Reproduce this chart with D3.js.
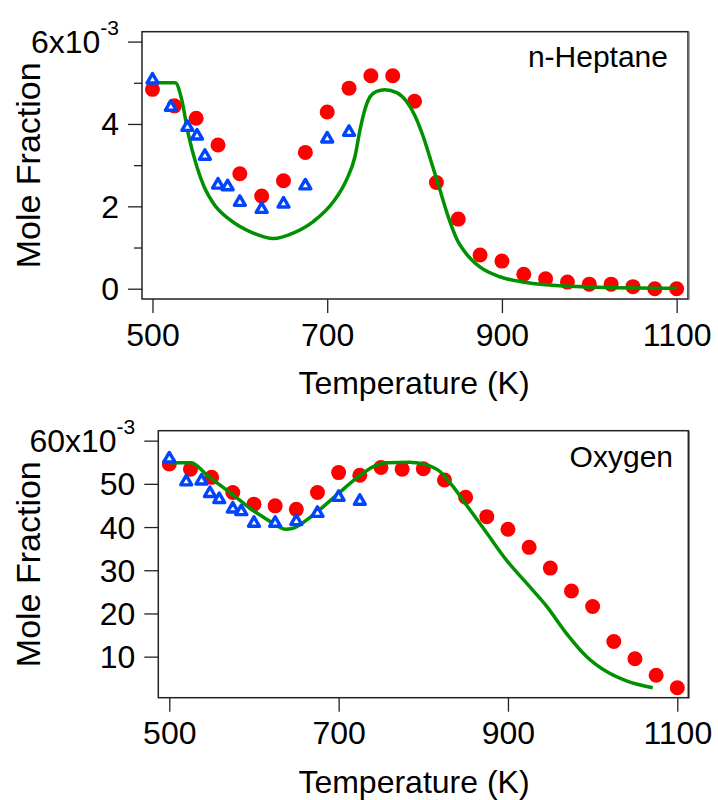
<!DOCTYPE html>
<html><head><meta charset="utf-8">
<script src="https://cdn.jsdelivr.net/npm/d3@7"></script>
<style>body{margin:0;background:#fff}svg{display:block;font-family:"Liberation Sans",Arial,sans-serif}</style>
</head><body>
<svg id="c" width="718" height="800"></svg>
<script>
// ---- Top panel: n-Heptane (units of 1e-3) ----
const hepExpT = [500,525,550,575,600,625,650,675,700,725,750,775,800,825,850,875,900,925,950,975,1000,1025,1050,1075,1100];
const hepExpV = [4.84,4.44,4.14,3.49,2.79,2.25,2.62,3.31,4.29,4.87,5.17,5.17,4.55,2.58,1.69,0.82,0.67,0.35,0.24,0.16,0.11,0.11,0.05,0.0,0.0];
const hepTriT = [500,521,540,551,560,575,586,600,625,650,675,700,725];
const hepTriV = [5.07,4.41,3.92,3.71,3.22,2.52,2.48,2.10,1.93,2.06,2.50,3.64,3.80];
const hepModT = [500,526,533.6,540.5,550.8,559,569.8,588.9,615.5,638.4,661,684,707,722,731.8,737.5,743,749,756.6,766,779.5,791,800,810,819.5,829,838.5,848,859.5,874.7,897.6,928,966,1023,1100];
const hepModV = [5.0,5.0,4.58,3.8,2.96,2.48,2.07,1.67,1.35,1.22,1.35,1.63,2.11,2.64,3.21,3.85,4.34,4.66,4.79,4.83,4.76,4.54,4.22,3.69,3.05,2.40,1.75,1.22,0.84,0.53,0.29,0.15,0.07,0.03,0.01];
const hepTicks = [0,2,4,6];
const hepMinor = [1,3,5];

// ---- Bottom panel: Oxygen (units of 1e-3) ----
const oxExpT = [500,525,550,575,600,625,650,675,700,725,750,775,800,825,850,875,900,925,950,975,1000,1025,1050,1075,1100];
const oxExpV = [54.6,53.4,51.5,48.0,45.3,44.9,44.1,48.0,52.6,52.0,53.8,53.4,53.5,50.9,46.9,42.4,39.5,35.3,30.5,25.2,21.6,13.5,9.5,5.7,2.8];
const oxTriT = [500,520,538,548,559,575,585,600,625,650,675,700,725];
const oxTriV = [55.8,50.5,50.7,47.8,46.4,44.2,43.6,40.9,40.9,41.3,43.2,46.9,46.0];
const oxModT = [500,526,544,575.6,597.6,613.4,629,637,646,662,677.6,697.6,723,741,757,784,804,820,835,851,875,898,922,946,969,993,1017,1040,1071];
const oxModV = [54.9,54.9,52.1,47.4,44.0,42.0,40.1,39.5,39.7,41.6,44.0,47.4,51.6,54.0,54.9,55.0,54.4,52.8,49.4,45.1,38.6,32.4,27.0,21.6,15.4,10.0,6.5,4.4,2.8];
const oxTicks = [10,20,30,40,50,60];

const xTicks = [500,700,900,1100];
const xTitle = "Temperature (K)";
const yTitle = "Mole Fraction";

const svg = d3.select("#c");
const RED = "#ff0000", BLUE = "#0044ff", GREEN = "#009100";

function panel(o){
  const g = svg.append("g");
  const x = d3.scaleLinear().domain(o.xd).range([o.L, o.R]);
  const y = d3.scaleLinear().domain(o.yd).range([o.B, o.T]);
  // frame
  g.append("rect").attr("x", o.L).attr("y", o.T).attr("width", o.R-o.L).attr("height", o.B-o.T)
    .attr("fill","none").attr("stroke","#222").attr("stroke-width",1.5);
  g.append("line").attr("x1",o.R+1.2).attr("x2",o.R+1.2).attr("y1",o.T).attr("y2",o.B+1)
    .attr("stroke","#888").attr("stroke-width",1);
  // x axis
  const xa = g.append("g").attr("transform",`translate(0,${o.B})`)
    .call(d3.axisBottom(x).tickValues(xTicks).tickSize(14).tickSizeOuter(0).tickPadding(10).tickFormat(d3.format("d")));
  xa.select(".domain").remove();
  xa.selectAll("line").attr("stroke","#222").attr("stroke-width",1.3);
  xa.selectAll("text").attr("font-size",32).attr("fill","#000").attr("font-family","Liberation Sans, Arial, sans-serif");
  // y axis
  const ya = g.append("g").attr("transform",`translate(${o.L},0)`)
    .call(d3.axisLeft(y).tickValues(o.yt).tickSize(14).tickSizeOuter(0).tickPadding(9).tickFormat(d=>""));
  ya.select(".domain").remove();
  ya.selectAll("line").attr("stroke","#222").attr("stroke-width",1.3);
  if (o.minor) {
    const ym = g.append("g").attr("transform",`translate(${o.L},0)`)
      .call(d3.axisLeft(y).tickValues(o.minor).tickSize(8).tickSizeOuter(0).tickFormat(""));
    ym.select(".domain").remove();
    ym.selectAll("line").attr("stroke","#222").attr("stroke-width",1.3);
  }
  const top = d3.max(o.yt);
  o.yt.forEach(v=>{
    const t = g.append("text").attr("x", o.L-23).attr("y", y(v)+11.5)
      .attr("text-anchor","end").attr("font-size",32).attr("fill","#000");
    if (v === top) {
      t.append("tspan").text(v+"x10");
      t.append("tspan").attr("font-size",21).attr("dy",-18).text("-3");
    } else t.text(v);
  });
  // titles
  g.append("text").attr("x",414).attr("y",o.B+95).attr("text-anchor","middle")
    .attr("font-size",32).attr("fill","#000").text(xTitle);
  g.append("text").attr("transform",`translate(40,${(o.T+o.B)/2}) rotate(-90)`)
    .attr("text-anchor","middle").attr("font-size",34).attr("fill","#000").text(yTitle);
  g.append("text").attr("x",o.lx).attr("y",o.ly).attr("text-anchor","end")
    .attr("font-size",30).attr("fill","#000").text(o.label);
  // data
  g.selectAll("circle.e").data(o.eT.map((t,i)=>[t,o.eV[i]])).join("circle")
    .attr("cx",d=>x(d[0])).attr("cy",d=>y(d[1])).attr("r",7.5).attr("fill",RED);
  const line = d3.line().x(d=>x(d[0])).y(d=>y(d[1])).curve(d3.curveMonotoneX);
  g.append("path").datum(o.mT.map((t,i)=>[t,o.mV[i]])).attr("d",line)
    .attr("fill","none").attr("stroke",GREEN).attr("stroke-width",3.5).attr("stroke-linejoin","round");
  const tri = d3.symbol().type(d3.symbolTriangle).size(52);
  g.selectAll("path.t").data(o.tT.map((t,i)=>[t,o.tV[i]])).join("path")
    .attr("transform",d=>`translate(${x(d[0])},${y(d[1])})`).attr("d",tri)
    .attr("fill","#fff").attr("stroke",BLUE).attr("stroke-width",3.4).attr("stroke-linejoin","round");
}

panel({L:142,R:688,T:31.7,B:299,xd:[488,1113],yd:[-0.25,6.24],yt:hepTicks,minor:hepMinor,
  eT:hepExpT,eV:hepExpV,tT:hepTriT,tV:hepTriV,mT:hepModT,mV:hepModV,label:"n-Heptane",lx:668,ly:67});
panel({L:158.3,R:688.3,T:430.7,B:697.7,xd:[487,1113],yd:[0.5,62.3],yt:oxTicks,minor:null,
  eT:oxExpT,eV:oxExpV,tT:oxTriT,tV:oxTriV,mT:oxModT,mV:oxModV,label:"Oxygen",lx:673,ly:467});
</script>
</body></html>
